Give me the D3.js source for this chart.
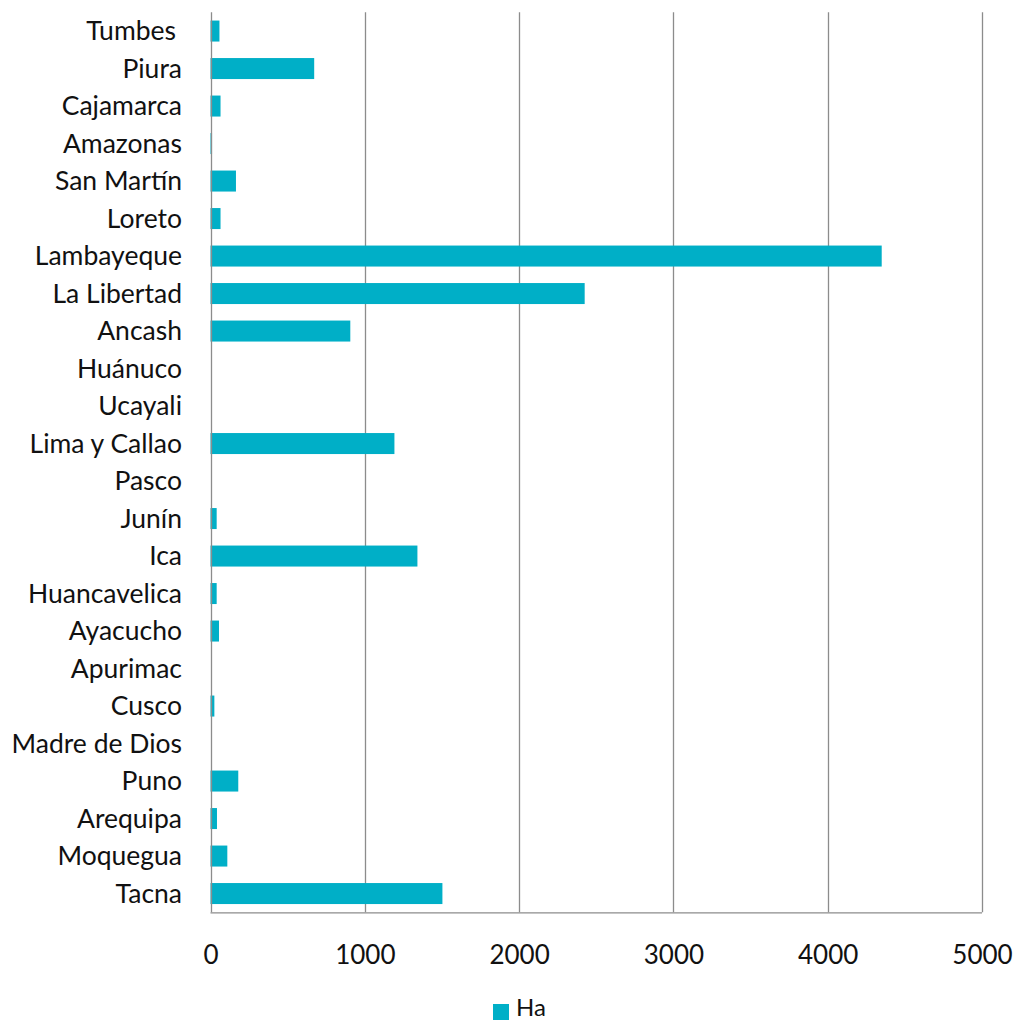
<!DOCTYPE html>
<html>
<head>
<meta charset="utf-8">
<script src="https://cdn.jsdelivr.net/npm/d3@7"></script>
<style>
  html, body { margin: 0; padding: 0; background: #fff; }
  svg { display: block; }
  text { font-family: Lato, "Open Sans", sans-serif; fill: #111; }
</style>
</head>
<body>
<svg id="chart" width="1016" height="1022"></svg>
<script>
// Regions, listed north to south
const regions = [
  "Tumbes ", "Piura", "Cajamarca", "Amazonas", "San Martín", "Loreto",
  "Lambayeque", "La Libertad", "Ancash", "Huánuco", "Ucayali",
  "Lima y Callao", "Pasco", "Junín", "Ica", "Huancavelica", "Ayacucho",
  "Apurimac", "Cusco", "Madre de Dios", "Puno", "Arequipa", "Moquegua", "Tacna"
];
// Hectares per region
const hectares = [
  58, 672, 65, 10, 165, 65,
  4350, 2425, 906, 0, 0,
  1192, 0, 40, 1341, 40, 55,
  0, 25, 0, 180, 42, 109, 1503
];
const xTicks = [0, 1000, 2000, 3000, 4000, 5000];
const seriesName = "Ha";

const barColor = "#00AFC7";
const gridColor = "#8c8c8c";

const svg = d3.select("#chart");
const plot = { left: 210.5, right: 982, top: 12.3, bottom: 912.3 };

const x = d3.scaleLinear().domain([0, 5000]).range([plot.left, plot.right]);
const y = d3.scaleBand().domain(regions).range([plot.top, plot.bottom]).paddingInner(0.44).paddingOuter(0.22);

// Vertical gridlines
svg.append("g")
  .selectAll("line")
  .data(xTicks.slice(1))
  .join("line")
  .attr("x1", d => Math.round(x(d)) + 0.5)
  .attr("x2", d => Math.round(x(d)) + 0.5)
  .attr("y1", plot.top)
  .attr("y2", plot.bottom)
  .attr("stroke", gridColor)
  .attr("stroke-width", 1.3);

// Bars
svg.append("g")
  .selectAll("rect")
  .data(regions.map((r, i) => ({ region: r, value: hectares[i] })))
  .join("rect")
  .attr("x", x(0))
  .attr("y", d => y(d.region))
  .attr("width", d => x(d.value) - x(0))
  .attr("height", y.bandwidth())
  .attr("fill", barColor);

// Vertical (category) axis line
svg.append("line")
  .attr("x1", Math.round(x(0)) + 0.5).attr("x2", Math.round(x(0)) + 0.5)
  .attr("y1", plot.top).attr("y2", plot.bottom)
  .attr("stroke", gridColor).attr("stroke-width", 1.3);

// Horizontal (value) axis line
svg.append("line")
  .attr("x1", x(0)).attr("x2", x(5000))
  .attr("y1", plot.bottom + 0.5).attr("y2", plot.bottom + 0.5)
  .attr("stroke", gridColor).attr("stroke-width", 1.3);

// Category labels
svg.append("g")
  .selectAll("text")
  .data(regions)
  .join("text")
  .attr("x", 182)
  .attr("y", d => y(d) + y.bandwidth() / 2)
  .attr("dy", "0.35em")
  .attr("text-anchor", "end")
  .attr("font-size", 26.5)
  .text(d => d.trimEnd())
  .attr("dx", d => d.endsWith(" ") ? -6 : 0);

// Value tick labels
const xAxis = d3.axisBottom(x).tickValues(xTicks).tickSize(0).tickPadding(0).tickFormat(d3.format("d"));
const ax = svg.append("g").attr("transform", `translate(0, ${plot.bottom})`).call(xAxis);
ax.select(".domain").remove();
ax.selectAll("text")
  .attr("y", 43)
  .attr("dy", "0.35em")
  .attr("font-size", 26)
  .attr("fill", "#111")
  .style("font-family", "Lato, 'Open Sans', sans-serif");

// Legend
const legend = svg.append("g").attr("transform", "translate(493, 1004)");
legend.append("rect").attr("x", 0).attr("y", 0).attr("width", 16).attr("height", 16).attr("fill", barColor);
legend.append("text").attr("x", 23).attr("y", 4).attr("dy", "0.35em").attr("font-size", 24).text(seriesName);
</script>
</body>
</html>
